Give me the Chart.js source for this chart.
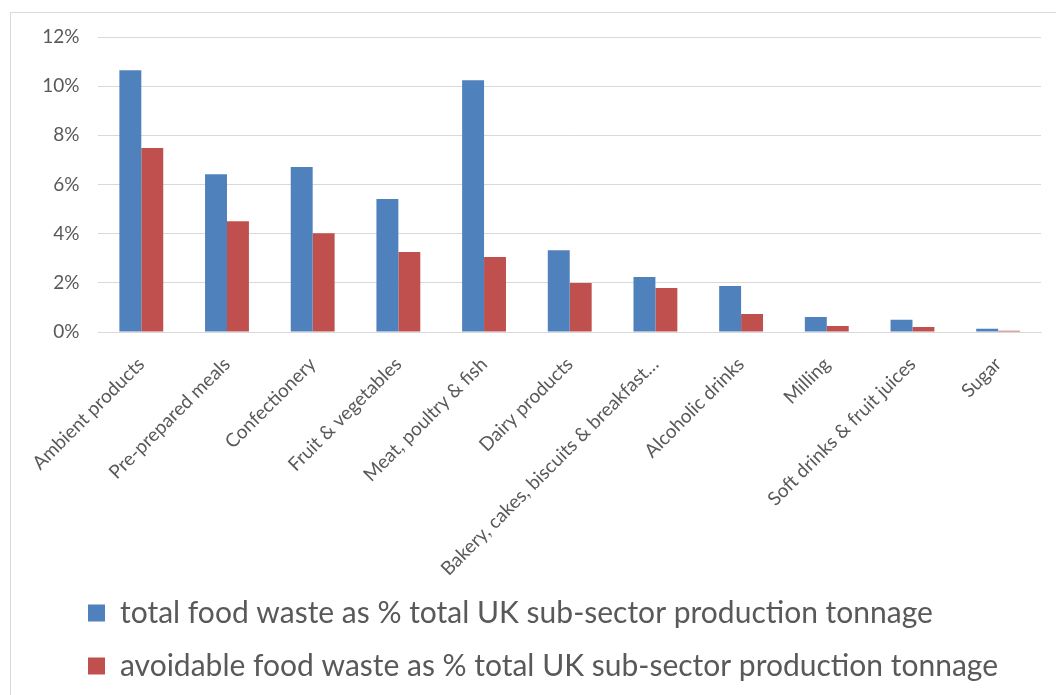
<!DOCTYPE html>
<html>
<head>
<meta charset="utf-8">
<script src="https://cdn.jsdelivr.net/npm/chart.js@4/dist/chart.umd.min.js"></script>
<style>
  html, body { margin: 0; padding: 0; background: #fff; overflow: hidden; }
  .frame {
    position: absolute; left: 10px; top: 12px;
    width: 1046px; height: 683px;
    border-left: 1px solid #d9d9d9; border-top: 1px solid #d9d9d9;
  }
  .frame canvas { position: absolute; left: 0; top: 0; }
</style>
</head>
<body>
<div class="frame"><canvas id="wasteChart" width="1046" height="683"></canvas></div>
<script>
// sub-sectors (x axis)
const categories = [
  "Ambient products", "Pre-prepared meals", "Confectionery", "Fruit & vegetables",
  "Meat, poultry & fish", "Dairy products", "Bakery, cakes, biscuits & breakfast\u2026",
  "Alcoholic drinks", "Milling", "Soft drinks & fruit juices", "Sugar"
];

// % of UK sub-sector production tonnage
const totalWaste = [10.65, 6.42, 6.71, 5.41, 10.24, 3.33, 2.24, 1.87, 0.61, 0.50, 0.13];
const avoidableWaste = [7.48, 4.51, 4.02, 3.25, 3.05, 1.99, 1.79, 0.73, 0.24, 0.20, 0.05];

const seriesNames = [
  "total food waste as % total UK sub-sector production tonnage",
  "avoidable food waste as % total UK sub-sector production tonnage"
];

const yTicks = [0, 2, 4, 6, 8, 10, 12];

const textColor = "#595959";
const gridColor = "#d9d9d9";
const fontFamily = "Lato, 'Open Sans', sans-serif";

// push the legend rows right, like the Excel legend
const legendShift = {
  id: "legendShift",
  afterLayout(chart) {
    chart.legend.left = 54;
  }
};

new Chart(document.getElementById("wasteChart"), {
  type: "bar",
  data: {
    labels: categories,
    datasets: [
      {
        label: seriesNames[0],
        data: totalWaste,
        backgroundColor: "#4f81bd",
        categoryPercentage: 0.512,
        barPercentage: 1.0
      },
      {
        label: seriesNames[1],
        data: avoidableWaste,
        backgroundColor: "#c0504d",
        categoryPercentage: 0.512,
        barPercentage: 1.0
      }
    ]
  },
  plugins: [legendShift],
  options: {
    responsive: false,
    animation: false,
    layout: { padding: { left: 0, right: 16, top: 24, bottom: 5 } },
    plugins: {
      tooltip: { enabled: false },
      legend: {
        position: "bottom",
        align: "start",
        labels: {
          color: textColor,
          boxWidth: 17,
          boxHeight: 17,
          padding: 23,
          font: { family: fontFamily, size: 30 }
        }
      }
    },
    scales: {
      x: {
        grid: { display: false, drawTicks: false },
        border: { display: true, color: gridColor, width: 1 },
        ticks: {
          color: textColor,
          font: { family: fontFamily, size: 19 },
          maxRotation: 45,
          minRotation: 45,
          autoSkip: false,
          padding: 21
        },
        afterFit: (scale) => { scale.height = 243; }
      },
      y: {
        min: 0,
        max: 12,
        afterBuildTicks: (scale) => { scale.ticks = yTicks.map(v => ({ value: v })); },
        grid: { color: gridColor, drawTicks: false },
        border: { display: false },
        ticks: {
          color: textColor,
          font: { family: fontFamily, size: 19 },
          padding: 19,
          callback: (v) => v + "%"
        },
        afterFit: (scale) => {
          scale.width = 85;
          scale.paddingTop = 0;
          scale.paddingBottom = 0;
        }
      }
    }
  }
});
</script>
</body>
</html>
